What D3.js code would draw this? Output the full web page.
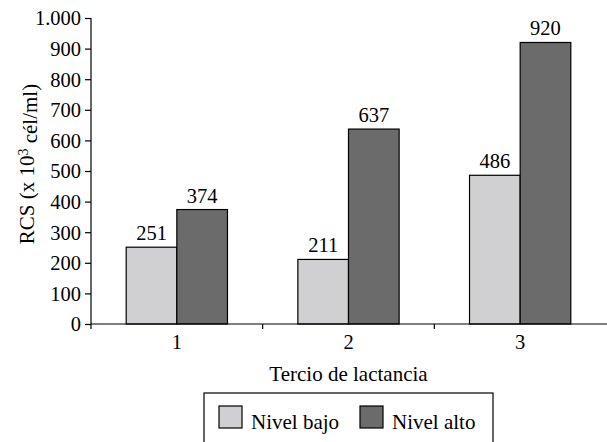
<!DOCTYPE html>
<html>
<head>
<meta charset="utf-8">
<script src="https://cdn.jsdelivr.net/npm/d3@7"></script>
<style>
  body { margin: 0; background: #fff; }
</style>
</head>
<body>
<div id="chart"></div>
<script>
// Chart data
const categories = ['1', '2', '3'];
const seriesNames = ['Nivel bajo', 'Nivel alto'];
const nivelBajo = [251, 211, 486];
const nivelAlto = [374, 637, 920];
const yTicks = [0, 100, 200, 300, 400, 500, 600, 700, 800, 900, 1000];
const seriesColors = ['#d0d0d2', '#6b6b6b'];

const FONT = "'Liberation Serif', 'Times New Roman', Times, serif";
const width = 607;
const height = 442;
const margin = { top: 18, right: 1, bottom: 118, left: 91 };

const svg = d3.select('#chart').append('svg')
  .attr('width', width)
  .attr('height', height)
  .style('font-family', FONT);

const x0 = d3.scaleBand()
  .domain(categories)
  .range([margin.left, width - margin.right])
  .paddingInner(0.41)
  .paddingOuter(0.205);

const x1 = d3.scaleBand()
  .domain(seriesNames)
  .range([0, x0.bandwidth()]);

const y = d3.scaleLinear()
  .domain([0, 1000])
  .range([height - margin.bottom, margin.top]);

const fmt = d => d3.format(',')(d).replace(/,/g, '.');

// Y axis
const yAxis = svg.append('g')
  .attr('transform', `translate(${margin.left},0)`)
  .call(d3.axisLeft(y).tickValues(yTicks).tickFormat(fmt).tickSize(6).tickPadding(4).tickSizeOuter(0));
yAxis.attr('font-family', null).attr('font-size', null);
yAxis.select('.domain').attr('d', `M0,${y(1000)}V${y(0) + 5}`);
yAxis.selectAll('text')
  .style('font-family', FONT)
  .style('font-size', '20.5px')
  .attr('fill', '#000')
  .attr('dy', '0.34em');
yAxis.selectAll('line, path').attr('stroke', '#000').attr('stroke-width', 1.2);

// Bars
const data = categories.map((c, i) => ({ cat: c, values: [nivelBajo[i], nivelAlto[i]] }));

const groups = svg.append('g').selectAll('g')
  .data(data)
  .join('g')
  .attr('transform', d => `translate(${x0(d.cat)},0)`);

groups.selectAll('rect')
  .data(d => d.values.map((v, k) => ({ key: seriesNames[k], value: v, k })))
  .join('rect')
  .attr('x', d => x1(d.key))
  .attr('y', d => y(d.value))
  .attr('width', x1.bandwidth())
  .attr('height', d => y(0) - y(d.value))
  .attr('fill', d => seriesColors[d.k])
  .attr('stroke', '#000')
  .attr('stroke-width', 1.2);

groups.selectAll('text.value')
  .data(d => d.values.map((v, k) => ({ key: seriesNames[k], value: v })))
  .join('text')
  .attr('class', 'value')
  .attr('x', d => x1(d.key) + x1.bandwidth() / 2)
  .attr('y', d => y(d.value) - 7)
  .attr('text-anchor', 'middle')
  .style('font-family', FONT)
  .style('font-size', '20.5px')
  .text(d => d.value);

// X axis
const xAxis = svg.append('g');
xAxis.append('line')
  .attr('x1', margin.left)
  .attr('x2', width)
  .attr('y1', y(0))
  .attr('y2', y(0))
  .attr('stroke', '#000')
  .attr('stroke-width', 1.2);

const step = x0.step();
xAxis.selectAll('line.tick')
  .data(categories.slice(1))
  .join('line')
  .attr('class', 'tick')
  .attr('x1', d => x0(d) - x0.paddingInner() * step / 2)
  .attr('x2', d => x0(d) - x0.paddingInner() * step / 2)
  .attr('y1', y(0))
  .attr('y2', y(0) + 5)
  .attr('stroke', '#000')
  .attr('stroke-width', 1.2);

xAxis.selectAll('text')
  .data(categories)
  .join('text')
  .attr('x', d => x0(d) + x0.bandwidth() / 2)
  .attr('y', y(0) + 25)
  .attr('text-anchor', 'middle')
  .style('font-family', FONT)
  .style('font-size', '20.5px')
  .text(d => d);

// Axis titles
svg.append('text')
  .attr('x', (x0('1') + x0('3') + x0.bandwidth()) / 2)
  .attr('y', 381)
  .attr('text-anchor', 'middle')
  .style('font-family', FONT)
  .style('font-size', '21px')
  .text('Tercio de lactancia');

const yTitle = svg.append('text')
  .attr('transform', 'translate(34,164) rotate(-90)')
  .attr('text-anchor', 'middle')
  .style('font-family', FONT)
  .style('font-size', '21px');
yTitle.append('tspan').text('RCS (x 10');
yTitle.append('tspan').attr('dy', '-0.45em').style('font-size', '14px').text('3');
yTitle.append('tspan').attr('dy', '0.45em').text(' cél/ml)');

// Legend
const legend = svg.append('g').attr('transform', 'translate(204,393)');
legend.append('rect')
  .attr('width', 289)
  .attr('height', 70)
  .attr('fill', '#fff')
  .attr('stroke', '#000')
  .attr('stroke-width', 1.2);

const legendX = [15, 156];
seriesNames.forEach((name, k) => {
  legend.append('rect')
    .attr('x', legendX[k])
    .attr('y', 13)
    .attr('width', 23)
    .attr('height', 22)
    .attr('fill', seriesColors[k])
    .attr('stroke', '#000')
    .attr('stroke-width', 1.2);
  legend.append('text')
    .attr('x', legendX[k] + 32)
    .attr('y', 36)
    .style('font-family', FONT)
    .style('font-size', '21px')
    .text(name);
});
</script>
</body>
</html>
